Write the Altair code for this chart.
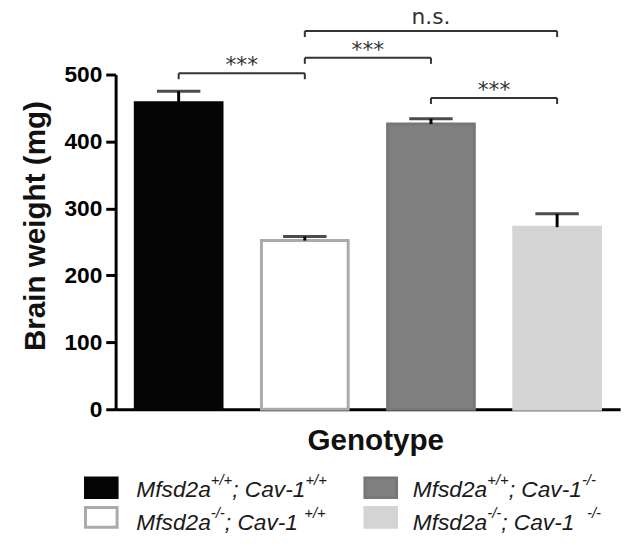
import altair as alt
import pandas as pd

# ---------------- data ----------------
genotypes = ["Mfsd2a+/+; Cav-1+/+", "Mfsd2a-/-; Cav-1+/+", "Mfsd2a+/+; Cav-1-/-", "Mfsd2a-/-; Cav-1-/-"]
means = [458, 252, 426, 272]
uppers = [475, 258, 434, 292]
fills = ["#050505", "#ffffff", "#808080", "#d4d4d4"]
strokes = ["#050505", "#aaaaaa", "#777777", "#d4d4d4"]

br_from = [0, 1, 1, 2]
br_to = [1, 2, 3, 3]
br_level = [502, 525, 565, 465]
br_label = ["***", "***", "n.s.", "***"]
br_drop = 9

# legend text pieces: (base1, sup1, base2, sup2)
leg_sup1 = ["+/+", "-/-", "+/+", "-/-"]
leg_base2 = ["; Cav-1", "; Cav-1 ", "; Cav-1", "; Cav-1  "]
leg_sup2 = ["+/+", "+/+", "-/-", "-/-"]

# ---------------- layout constants ----------------
W, H = 511, 339
P_IN, P_OUT = 0.3125, 0.156
STEP = W / (4 - P_IN + 2 * P_OUT)
BAND = STEP * (1 - P_IN)
FONT = "Liberation Sans"

df = pd.DataFrame({"g": genotypes, "mean": means, "upper": uppers,
                   "fill": fills, "stroke": strokes})

xscale = alt.Scale(domain=genotypes, paddingInner=P_IN, paddingOuter=P_OUT)
yscale = alt.Scale(domain=[0, 500], nice=False)

X = alt.X("g:N", scale=xscale, sort=genotypes,
          axis=alt.Axis(title="Genotype", labels=False, ticks=False, domainWidth=3,
                        domainColor="#000", titleFont=FONT, titleFontSize=30,
                        titleFontWeight="bold", titleColor="#111",
                        titleX=263, titleY=41, titleBaseline="alphabetic", titleAlign="center"))
Y = alt.Y("mean:Q", scale=yscale,
          axis=alt.Axis(title="Brain weight (mg)", values=[0, 100, 200, 300, 400, 500],
                        grid=False, domainWidth=3, domainColor="#000", tickWidth=3,
                        tickColor="#000", tickSize=10, labelFont=FONT, labelFontSize=23,
                        labelFontWeight="bold", labelColor="#000", labelPadding=4,
                        titleFont=FONT, titleFontSize=30, titleFontWeight="bold",
                        titleColor="#111", titleAngle=270, titleX=-72, titleY=153,
                        titleAlign="center", titleBaseline="alphabetic"))

bars = alt.Chart(df).mark_bar(strokeWidth=3).encode(
    x=X, y=Y,
    fill=alt.Fill("fill:N", scale=None),
    stroke=alt.Stroke("stroke:N", scale=None),
)
stems = alt.Chart(df).mark_rule(color="#000", strokeWidth=3).encode(
    x=alt.X("g:N", scale=xscale, sort=genotypes), y="mean:Q", y2="upper:Q")
caps = alt.Chart(df).mark_tick(color="#000", thickness=3, size=44).encode(
    x=alt.X("g:N", scale=xscale, sort=genotypes), y="upper:Q")

# brackets
bdf = pd.DataFrame({
    "a": [genotypes[i] for i in br_from],
    "b": [genotypes[i] for i in br_to],
    "lev": br_level,
    "low": [v - br_drop for v in br_level],
    "lab": br_label,
    "off": [(t - f) * STEP / 2 + BAND / 2 for f, t in zip(br_from, br_to)],
})
ends = pd.concat([
    bdf[["a", "lev", "low"]].rename(columns={"a": "g"}),
    bdf[["b", "lev", "low"]].rename(columns={"b": "g"}),
])
BR_COL = "#333333"
hlines = alt.Chart(bdf).mark_rule(color=BR_COL, strokeWidth=2).encode(
    x=alt.X("a:N", scale=xscale, sort=genotypes), x2="b:N", y="lev:Q")
vlines = alt.Chart(ends).mark_rule(color=BR_COL, strokeWidth=2).encode(
    x=alt.X("g:N", scale=xscale, sort=genotypes), y="lev:Q", y2="low:Q")
stars = alt.Chart(bdf).transform_filter(alt.datum.lab == "***").mark_text(
    font="DejaVu Sans", fontSize=22, color=BR_COL, baseline="alphabetic", dy=-1).encode(
    x=alt.X("a:N", scale=xscale, sort=genotypes),
    xOffset=alt.XOffset("off:Q", scale=None), y="lev:Q", text="lab:N")
ns = alt.Chart(bdf).transform_filter(alt.datum.lab == "n.s.").mark_text(
    font="DejaVu Sans", fontSize=22, color=BR_COL, baseline="alphabetic", dy=-7).encode(
    x=alt.X("a:N", scale=xscale, sort=genotypes),
    xOffset=alt.XOffset("off:Q", scale=None), y="lev:Q", text="lab:N")

# ---------------- legend (custom, with superscripts) ----------------
CW = {"M": 833, "f": 278, "s": 500, "d": 556, "2": 556, "a": 556, ";": 278, " ": 278,
      "C": 722, "v": 500, "-": 333, "1": 556, "+": 584, "/": 278}


def tw(s, size):
    return sum(CW[c] for c in s) * size / 1000.0


MAIN, SUP = 23, 15
# item order: 0 = col1,row1; 1 = col1,row2; 2 = col2,row1; 3 = col2,row2
col_x = [21, 21, 301, 301]
row_base = [428, 461, 428, 461]
sym_x = [-32, -32, 251, 251]
sym_y = [407, 437, 407, 437]

legend_layers = []
for i in range(4):
    sdf = pd.DataFrame({"f": [fills[i]], "s": [strokes[i]], "k": [i]})
    legend_layers.append(
        alt.Chart(sdf).mark_rect(strokeWidth=3).encode(
            x=alt.value(sym_x[i] + 1.5), x2=alt.value(sym_x[i] + 33.5),
            y=alt.value(sym_y[i] + 1.5), y2=alt.value(sym_y[i] + 21.5),
            fill=alt.Fill("f:N", scale=None), stroke=alt.Stroke("s:N", scale=None)))
    pieces = [("Mfsd2a", MAIN, 0), (leg_sup1[i], SUP, -12),
              (leg_base2[i], MAIN, 0), (leg_sup2[i], SUP, -12)]
    x = col_x[i]
    for txt, size, dyv in pieces:
        tdf = pd.DataFrame({"t": [txt]})
        legend_layers.append(
            alt.Chart(tdf).mark_text(font=FONT, fontStyle="italic", fontSize=size,
                                     color="#1a1a1a", align="left", baseline="alphabetic").encode(
                x=alt.value(x), y=alt.value(row_base[i] + dyv), text="t:N"))
        x += tw(txt, size)

chart = alt.layer(bars, stems, caps, hlines, vlines, stars, ns, *legend_layers).properties(
    width=W, height=H,
    autosize=alt.AutoSizeParams(type="none"),
    padding={"left": 109, "top": 64, "right": 12, "bottom": 127},
    background="white",
).configure_view(stroke=None)

chart.save("out.html", embed_options={"renderer": "svg", "actions": False})
